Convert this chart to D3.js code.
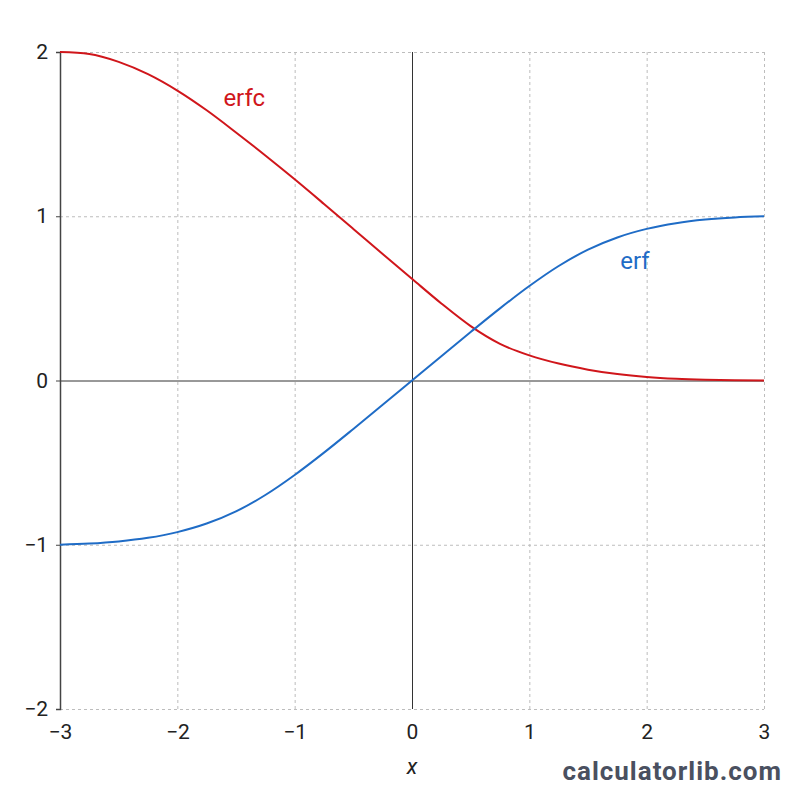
<!DOCTYPE html>
<html>
<head>
<meta charset="utf-8">
<script src="https://cdn.jsdelivr.net/npm/d3@7"></script>
<style>
  html, body { margin: 0; padding: 0; background: #fff; }
  #chart { width: 800px; height: 800px; }
  text { font-family: Roboto, "Noto Sans", sans-serif; }
</style>
</head>
<body>
<div id="chart"></div>
<script>
// values
const xValues = [-3, -2.75, -2.5, -2.25, -2, -1.75, -1.5, -1.25, -1, -0.75, -0.5, -0.25, 0,
  0.25, 0.5, 0.75, 1, 1.25, 1.5, 1.75, 2, 2.25, 2.5, 2.75, 3];
const erfValues = [-1.0, -0.993, -0.98, -0.958, -0.923, -0.871, -0.797, -0.697, -0.575, -0.439, -0.295, -0.148, 0,
  0.148, 0.295, 0.439, 0.575, 0.697, 0.797, 0.871, 0.923, 0.958, 0.98, 0.993, 1.0];
const erfcValues = [2.0, 1.988, 1.94, 1.865, 1.765, 1.645, 1.51, 1.37, 1.225, 1.075, 0.923, 0.77, 0.619,
  0.469, 0.331, 0.223, 0.153, 0.103, 0.066, 0.039, 0.021, 0.01, 0.004, 0.001, 0.0];
const xTicks = [-3, -2, -1, 0, 1, 2, 3];
const yTicks = [-2, -1, 0, 1, 2];

const width = 800, height = 800;
const margin = { top: 52, right: 36, bottom: 91, left: 60 };

const svg = d3.select('#chart').append('svg')
  .attr('width', width)
  .attr('height', height);

const x = d3.scaleLinear().domain([-3, 3]).range([margin.left, width - margin.right]);
const y = d3.scaleLinear().domain([-2, 2]).range([height - margin.bottom, margin.top]);

const minus = d => d < 0 ? '\u2212' + Math.abs(d) : String(d);

// dashed grid
const grid = svg.append('g').attr('stroke', '#bdbdbd').attr('stroke-width', 1).attr('stroke-dasharray', '3,3');
grid.selectAll('line.v')
  .data(xTicks.filter(d => d !== -3 && d !== 0))
  .enter().append('line')
  .attr('class', 'v')
  .attr('x1', d => x(d) + 0.5).attr('x2', d => x(d) + 0.5)
  .attr('y1', y(2)).attr('y2', y(-2));
grid.selectAll('line.h')
  .data(yTicks.filter(d => d !== 0))
  .enter().append('line')
  .attr('class', 'h')
  .attr('x1', x(-3)).attr('x2', x(3))
  .attr('y1', d => y(d) + 0.5).attr('y2', d => y(d) + 0.5);

// zero lines
svg.append('line')
  .attr('x1', x(-3)).attr('x2', x(3))
  .attr('y1', y(0) + 0.5).attr('y2', y(0) + 0.5)
  .attr('stroke', '#333').attr('stroke-width', 1);
svg.append('line')
  .attr('x1', x(0) + 0.5).attr('x2', x(0) + 0.5)
  .attr('y1', y(2)).attr('y2', y(-2))
  .attr('stroke', '#333').attr('stroke-width', 1);

// left axis
const yAxis = d3.axisLeft(y).tickValues(yTicks).tickSize(4).tickPadding(8).tickFormat(minus);
const gy = svg.append('g').attr('transform', `translate(${x(-3)},0)`).call(yAxis);
gy.select('.domain').attr('stroke', '#444').attr('stroke-width', 1.5);
gy.selectAll('.tick line').attr('stroke', '#444');
gy.selectAll('.tick text').attr('font-size', 21).attr('fill', '#222')
  .attr('font-family', 'Roboto, sans-serif');

// bottom tick labels (no axis line)
const xAxis = d3.axisBottom(x).tickValues(xTicks).tickSize(0).tickPadding(15).tickFormat(minus);
const gx = svg.append('g').attr('transform', `translate(0,${y(-2)})`).call(xAxis);
gx.select('.domain').remove();
gx.selectAll('.tick text').attr('font-size', 21).attr('fill', '#222')
  .attr('font-family', 'Roboto, sans-serif');

// curves
const line = d3.line()
  .x((d, i) => x(xValues[i]))
  .y(d => y(d))
  .curve(d3.curveMonotoneX);

svg.append('path')
  .datum(erfcValues)
  .attr('d', line)
  .attr('fill', 'none')
  .attr('stroke', '#d0161b')
  .attr('stroke-width', 2);

svg.append('path')
  .datum(erfValues)
  .attr('d', line)
  .attr('fill', 'none')
  .attr('stroke', '#1f6cc6')
  .attr('stroke-width', 2);

// curve labels
svg.append('text')
  .attr('x', x(-1.43)).attr('y', y(1.67))
  .attr('text-anchor', 'middle')
  .attr('font-size', 24)
  .attr('fill', '#d0161b')
  .text('erfc');

svg.append('text')
  .attr('x', x(1.9)).attr('y', y(0.68))
  .attr('text-anchor', 'middle')
  .attr('font-size', 24)
  .attr('fill', '#1f6cc6')
  .text('erf');

// axis title
svg.append('text')
  .attr('x', x(0)).attr('y', 774)
  .attr('text-anchor', 'middle')
  .attr('font-size', 22)
  .attr('font-style', 'italic')
  .attr('fill', '#222')
  .text('x');

// watermark
svg.append('text')
  .attr('x', 782).attr('y', 780)
  .attr('text-anchor', 'end')
  .attr('font-family', '"Liberation Sans", Arial, sans-serif')
  .attr('font-size', 26)
  .attr('font-weight', 'bold')
  .attr('letter-spacing', 1)
  .attr('fill', '#4a5060')
  .text('calculatorlib.com');
</script>
</body>
</html>
